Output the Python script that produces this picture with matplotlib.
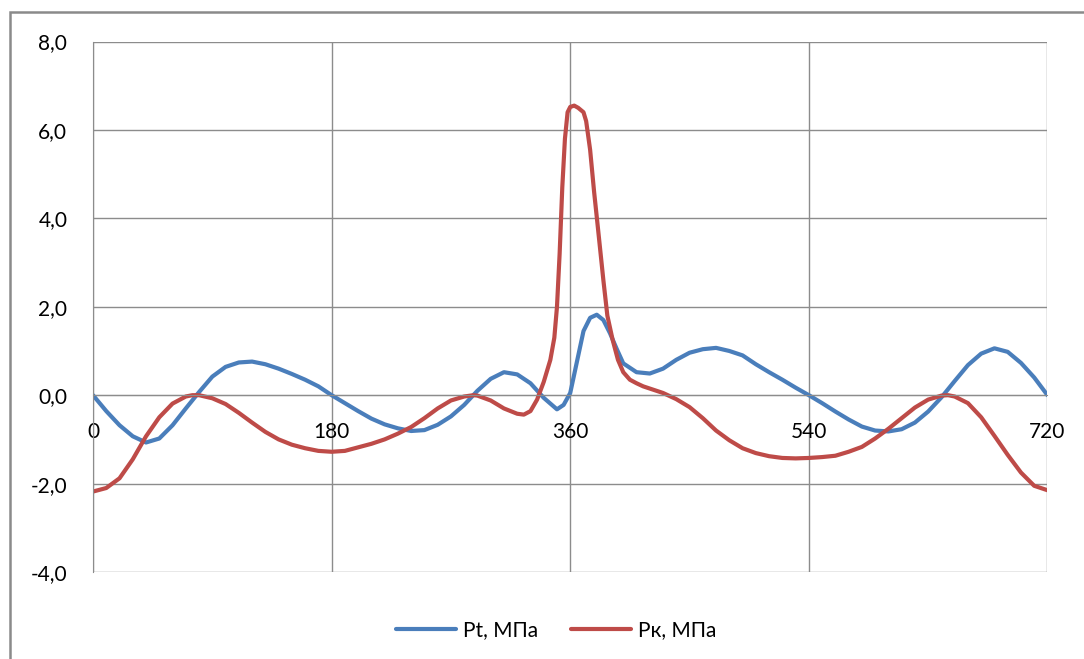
import numpy as np
import matplotlib.pyplot as plt
from matplotlib.patches import Rectangle

plt.rcParams['font.family'] = ['Lato', 'Noto Sans', 'DejaVu Sans']

### DATA
# Pt, MPa
pt_angle = [0, 10, 20, 30, 40, 50, 60, 70, 80, 90, 100, 110, 120, 130, 140, 150, 160, 170, 180,
            190, 200, 210, 220, 230, 240, 250, 260, 270, 280, 290, 300, 310, 320, 330, 340, 350,
            355, 360, 365, 370, 375, 380, 385, 390, 395, 400, 410, 420, 430, 440, 450, 460, 470,
            480, 490, 500, 510, 520, 530, 540, 550, 560, 570, 580, 590, 600, 610, 620, 630, 640,
            650, 660, 670, 680, 690, 700, 710, 720]
pt_val = [0.0, -0.36, -0.68, -0.93, -1.07, -0.98, -0.68, -0.30, 0.07, 0.42, 0.64, 0.74, 0.76, 0.70,
          0.60, 0.48, 0.35, 0.20, 0.0,
          -0.18, -0.36, -0.53, -0.66, -0.75, -0.81, -0.79, -0.67, -0.48, -0.22, 0.10, 0.37, 0.52,
          0.47, 0.27, -0.06, -0.32,
          -0.22, 0.05, 0.75, 1.45, 1.75, 1.82, 1.70, 1.40, 1.05, 0.72, 0.52, 0.49, 0.60, 0.80,
          0.96, 1.04, 1.07,
          1.00, 0.90, 0.70, 0.52, 0.35, 0.17, 0.0, -0.18, -0.37, -0.55, -0.71, -0.80, -0.82,
          -0.77, -0.62, -0.37, -0.05,
          0.32, 0.68, 0.94, 1.06, 0.98, 0.73, 0.40, 0.0]

# Рк, MPa
pk_angle = [0, 10, 20, 30, 40, 50, 60, 70, 75, 80, 90, 100, 110, 120, 130, 140, 150, 160, 170, 180,
            190, 200, 210, 220, 230, 240, 250, 260, 270, 280, 287, 290, 300, 310, 320, 325, 330,
            335, 340, 345, 348, 350, 352, 354, 356, 358, 360, 363, 366, 370, 372, 375, 378, 381,
            385, 388, 392, 396, 400, 405, 410, 415, 420, 430, 440, 450, 460, 470, 480, 490, 500,
            510, 520, 530, 540, 550, 560, 570, 580, 590, 600, 610, 620, 630, 640, 645, 650, 660,
            670, 680, 690, 700, 710, 720]
pk_val = [-2.18, -2.10, -1.88, -1.45, -0.93, -0.50, -0.19, -0.03, 0.0, 0.0, -0.07, -0.20, -0.40,
          -0.62, -0.83, -1.00, -1.12, -1.20, -1.26, -1.28,
          -1.26, -1.18, -1.10, -1.00, -0.87, -0.72, -0.52, -0.30, -0.12, -0.03, 0.0, -0.01, -0.12,
          -0.30, -0.42, -0.44, -0.36,
          -0.10, 0.30, 0.80, 1.30, 2.00, 3.20, 4.70, 5.80, 6.40, 6.52, 6.55, 6.50, 6.40, 6.20,
          5.55, 4.60, 3.75,
          2.60, 1.80, 1.25, 0.80, 0.52, 0.35, 0.27, 0.20, 0.15, 0.05, -0.09, -0.27, -0.52, -0.80,
          -1.02, -1.20, -1.31,
          -1.38, -1.42, -1.43, -1.42, -1.40, -1.37, -1.28, -1.17, -0.98, -0.76, -0.52, -0.28,
          -0.10, -0.01, 0.0, -0.03, -0.18,
          -0.50, -0.92, -1.35, -1.75, -2.05, -2.15]

x_ticks = [0, 180, 360, 540, 720]
y_ticks = [-4, -2, 0, 2, 4, 6, 8]
y_labels = ['-4,0', '-2,0', '0,0', '2,0', '4,0', '6,0', '8,0']

grid_col = '#8c8c8c'

### FIGURE
fig = plt.figure(figsize=(10.84, 6.59), dpi=100)
ax = fig.add_axes([0.0858, 0.132, 0.8805, 0.805])

ax.plot(pt_angle, pt_val, color='#4a7ebb', lw=3.0, label='Pt, МПа',
        solid_capstyle='round', solid_joinstyle='round')
ax.plot(pk_angle, pk_val, color='#be4b48', lw=3.0, label='Рк, МПа',
        solid_capstyle='round', solid_joinstyle='round')

ax.set_xlim(0, 720)
ax.set_ylim(-4, 8)
ax.set_xticks(x_ticks)
ax.set_yticks(y_ticks)
ax.set_yticklabels(y_labels)
ax.grid(True, color=grid_col, lw=1)
ax.set_axisbelow(True)

for s in ['top', 'right']:
    ax.spines[s].set_visible(False)
ax.spines['bottom'].set_position(('data', 0))
ax.spines['bottom'].set_color(grid_col)
ax.spines['left'].set_color(grid_col)
ax.tick_params(axis='both', length=0, labelsize=15, colors='#000000')
ax.tick_params(axis='x', pad=19.5)
ax.tick_params(axis='y', pad=18.5)

ax.legend(loc='upper center', bbox_to_anchor=(0.485, -0.055), ncol=2, frameon=False,
          fontsize=15, handlelength=2.9, columnspacing=1.6, handletextpad=0.3)

# outer chart border (cut off at right/bottom)
fig.add_artist(Rectangle((9.5 / 1084, -0.2), 1.3, 1.2 - 11.5 / 659, fill=False,
                         edgecolor='#8a8a8a', lw=1.8, transform=fig.transFigure, clip_on=False))

fig.savefig('out.png', dpi=100)
